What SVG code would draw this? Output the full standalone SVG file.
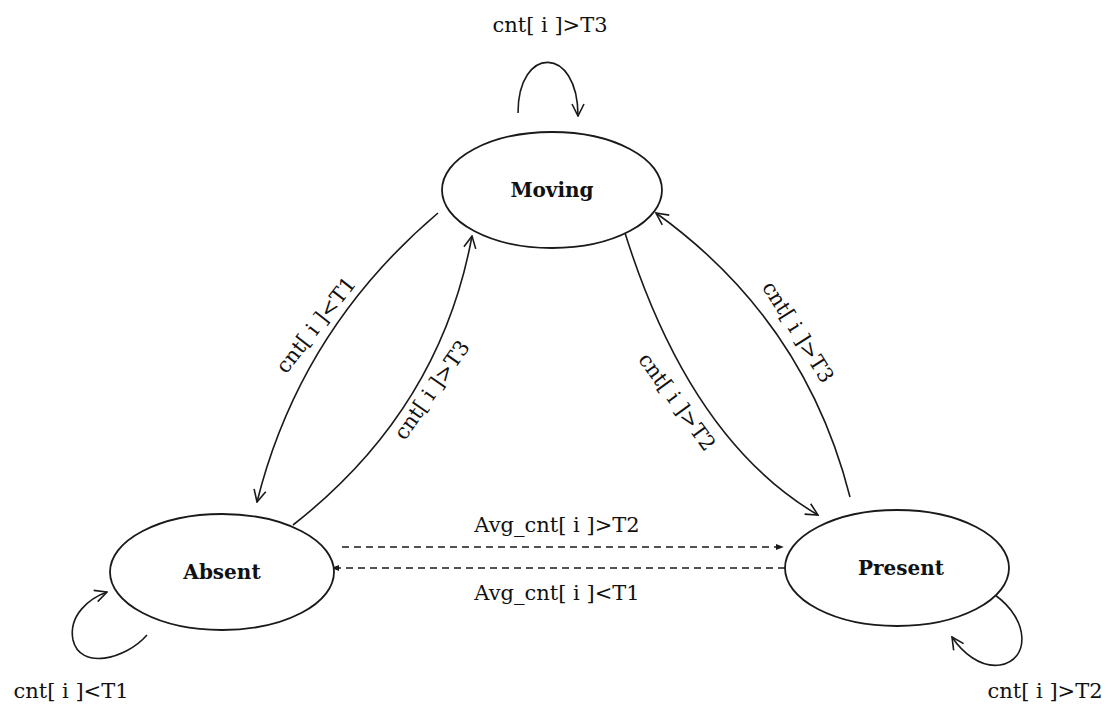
<svg xmlns="http://www.w3.org/2000/svg" width="1111" height="707" viewBox="0 0 1111 707">
<style>
.node{fill:#fff;stroke:#1a1a1a;stroke-width:1.8}
.nl{font-family:"DejaVu Serif","Liberation Serif",serif;font-weight:bold;font-size:20px;fill:#111;text-anchor:middle}
.lbl{font-family:"DejaVu Serif","Liberation Serif",serif;font-size:21px;fill:#111;text-anchor:middle}
.e{fill:none;stroke:#1a1a1a;stroke-width:1.6}
.d{fill:none;stroke:#1a1a1a;stroke-width:1.5;stroke-dasharray:7,5}
</style>
<defs>
<marker id="open" viewBox="0 0 14 14" refX="13" refY="7" markerWidth="14" markerHeight="14" markerUnits="userSpaceOnUse" orient="auto">
<path d="M1,1 L13,7 L1,13" fill="none" stroke="#1a1a1a" stroke-width="1.6"/>
</marker>
<marker id="tri" viewBox="0 0 10 10" refX="9" refY="5" markerWidth="8" markerHeight="8" markerUnits="userSpaceOnUse" orient="auto">
<path d="M0,1 L10,5 L0,9 Z" fill="#1a1a1a"/>
</marker>
</defs>
<g id="connectors">
<path class="e" d="M518,113 C518,45 578,45 578,116" marker-end="url(#open)"/>
<path class="e" d="M438,213 Q300,330 257,502" marker-end="url(#open)"/>
<path class="e" d="M293,525 Q440,410 472,236" marker-end="url(#open)"/>
<path class="e" d="M625,233 Q690,440 818,515" marker-end="url(#open)"/>
<path class="e" d="M850,497 Q805,320 656,213" marker-end="url(#open)"/>
<path class="d" d="M342,547 L783,547" marker-end="url(#tri)"/>
<path class="d" d="M785,568 L332,568" marker-end="url(#tri)"/>
<path class="e" d="M147,635 C125,660 80,670 73,640 C68,615 90,598 107,592" marker-end="url(#open)"/>
<path class="e" d="M995,595 C1030,620 1030,660 1000,665 C980,668 962,652 952,637" marker-end="url(#open)"/>
<text class="lbl" x="550" y="32">cnt[ i ]&gt;T3</text>
<text class="lbl" transform="translate(316,325) rotate(-52)" y="7">cnt[ i ]&lt;T1</text>
<text class="lbl" transform="translate(432,390) rotate(-55)" y="7">cnt[ i ]&gt;T3</text>
<text class="lbl" transform="translate(798,332) rotate(58)" y="7">cnt[ i ]&gt;T3</text>
<text class="lbl" transform="translate(677,402) rotate(54)" y="7">cnt[ i ]&gt;T2</text>
<text class="lbl" x="557" y="532">Avg_cnt[ i ]&gt;T2</text>
<text class="lbl" x="557" y="600">Avg_cnt[ i ]&lt;T1</text>
<text class="lbl" x="71" y="698">cnt[ i ]&lt;T1</text>
<text class="lbl" x="1045" y="698">cnt[ i ]&gt;T2</text>
</g>
<g id="moving">
<ellipse class="node" cx="552" cy="190" rx="110" ry="58"/>
<text class="nl" x="552" y="197">Moving</text>
</g>
<g id="absent">
<ellipse class="node" cx="222" cy="572" rx="112" ry="58"/>
<text class="nl" x="222" y="579">Absent</text>
</g>
<g id="present">
<ellipse class="node" cx="897" cy="568" rx="112" ry="58"/>
<text class="nl" x="901" y="575">Present</text>
</g>
</svg>
